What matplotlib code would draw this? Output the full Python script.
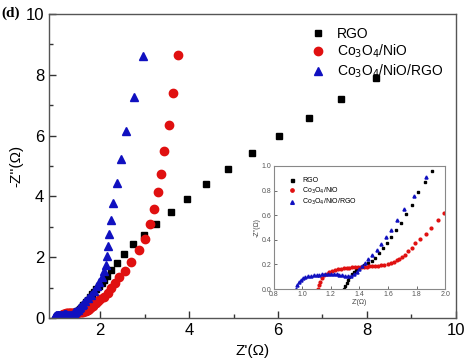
import numpy as np
import matplotlib.pyplot as plt

plt.rcParams['font.family'] = ['Liberation Sans', 'DejaVu Sans']

# Nyquist data, Z' and -Z'' in ohm
rgo_x = [1.29, 1.30, 1.31, 1.32, 1.33, 1.345, 1.36, 1.375, 1.39, 1.41, 1.43, 1.46,
         1.486, 1.511, 1.537, 1.565, 1.593, 1.623, 1.654, 1.689, 1.726, 1.766, 1.808,
         1.86, 1.91, 1.97, 2.03, 2.09, 2.15, 2.24, 2.37, 2.53, 2.73, 2.98, 3.25,
         3.59, 3.96, 4.39, 4.88, 5.42, 6.03, 6.69, 7.42, 8.20]
rgo_y = [0.0, 0.025, 0.05, 0.075, 0.098, 0.12, 0.14, 0.155, 0.168, 0.182, 0.195, 0.21,
         0.228, 0.255, 0.29, 0.331, 0.377, 0.425, 0.48, 0.539, 0.61, 0.685, 0.786,
         0.87, 0.96, 1.06, 1.16, 1.26, 1.37, 1.59, 1.82, 2.11, 2.42, 2.74, 3.08,
         3.50, 3.93, 4.41, 4.91, 5.44, 6.00, 6.59, 7.21, 7.89]

cn_x = [1.11, 1.115, 1.125, 1.14, 1.155, 1.17, 1.19, 1.21, 1.23, 1.25, 1.27, 1.29,
        1.31, 1.33, 1.35, 1.37, 1.39, 1.41, 1.43, 1.45, 1.47, 1.49, 1.51, 1.53, 1.55,
        1.57, 1.60, 1.62, 1.64, 1.66, 1.68, 1.70, 1.716, 1.74, 1.765, 1.79, 1.826,
        1.863, 1.90, 1.947, 1.993, 2.08, 2.17, 2.25, 2.34, 2.43, 2.55, 2.70, 2.87,
        3.00, 3.11, 3.21, 3.30, 3.36, 3.44, 3.54, 3.63, 3.75]
cn_y = [0.0, 0.03, 0.06, 0.09, 0.11, 0.125, 0.137, 0.146, 0.153, 0.159, 0.164, 0.168,
        0.171, 0.174, 0.176, 0.178, 0.179, 0.18, 0.181, 0.182, 0.184, 0.186, 0.188,
        0.19, 0.193, 0.197, 0.206, 0.214, 0.222, 0.234, 0.246, 0.263, 0.28, 0.306,
        0.336, 0.37, 0.41, 0.45, 0.50, 0.56, 0.62, 0.71, 0.84, 0.99, 1.15, 1.34, 1.56,
        1.85, 2.24, 2.61, 3.08, 3.59, 4.13, 4.75, 5.48, 6.36, 7.40, 8.66]

cnr_x = [0.955, 0.965, 0.975, 0.99, 1.005, 1.02, 1.04, 1.06, 1.08, 1.10, 1.12, 1.14,
         1.16, 1.18, 1.20, 1.22, 1.24, 1.26, 1.28, 1.30, 1.32, 1.34, 1.36, 1.38, 1.40,
         1.42, 1.44, 1.46, 1.49, 1.52, 1.55, 1.586, 1.619, 1.663, 1.714, 1.782, 1.869,
         1.93, 1.98, 2.03, 2.08, 2.13, 2.16, 2.17, 2.19, 2.24, 2.29, 2.37, 2.46, 2.58,
         2.75, 2.97]
cnr_y = [0.0, 0.03, 0.055, 0.075, 0.088, 0.097, 0.104, 0.109, 0.112, 0.115, 0.117,
         0.118, 0.119, 0.12, 0.12, 0.12, 0.118, 0.115, 0.111, 0.106, 0.103, 0.105,
         0.118, 0.14, 0.165, 0.19, 0.213, 0.24, 0.276, 0.319, 0.368, 0.42, 0.48, 0.558,
         0.648, 0.76, 0.908, 1.05, 1.20, 1.36, 1.54, 1.73, 2.03, 2.36, 2.75, 3.23, 3.78,
         4.45, 5.22, 6.16, 7.28, 8.61]

labels = ['RGO', 'Co$_3$O$_4$/NiO', 'Co$_3$O$_4$/NiO/RGO']

fig = plt.figure(figsize=(4.68, 3.64), dpi=100)
ax = fig.add_axes([0.105, 0.126, 0.869, 0.836])

ax.plot(rgo_x, rgo_y, 's', color='black', ms=5, label=labels[0])
ax.plot(cn_x, cn_y, 'o', color='#e01010', ms=6, label=labels[1])
ax.plot(cnr_x, cnr_y, '^', color='#1010c0', ms=6, label=labels[2])

ax.set_xlim(0.85, 10)
ax.set_ylim(0, 10)
ax.set_xticks([2, 4, 6, 8, 10])
ax.set_yticks([0, 2, 4, 6, 8, 10])
ax.set_xticks([1, 3, 5, 7, 9], minor=True)
ax.set_yticks([1, 3, 5, 7, 9], minor=True)
ax.tick_params(direction='in', labelsize=12, length=5, width=1, color='#333333')
ax.tick_params(which='minor', direction='in', length=3, width=1, color='#333333')
for s in ax.spines.values():
    s.set_color('#555555')
    s.set_linewidth(1.0)
ax.set_xlabel("Z'(\u03a9)", fontsize=11, labelpad=4)
ax.set_ylabel("-Z''(\u03a9)", fontsize=11, labelpad=2)
ax.legend(loc='upper left', frameon=False, fontsize=10, handlelength=1.0,
          handletextpad=0.9, labelspacing=0.15, borderaxespad=0.0,
          bbox_to_anchor=(0.63, 0.975))

fig.text(0.002, 0.955, '(d)', fontsize=11, fontweight='bold', family='Liberation Serif')

# inset zoom on high-frequency region
ins = fig.add_axes([0.585, 0.206, 0.366, 0.338])
ins.plot(rgo_x, rgo_y, 's', color='black', ms=1.8, label=labels[0])
ins.plot(cn_x, cn_y, 'o', color='#e01010', ms=2.0, label=labels[1])
ins.plot(cnr_x, cnr_y, '^', color='#1010c0', ms=2.2, label=labels[2])
ins.set_xlim(0.8, 2.0)
ins.set_ylim(0, 1.0)
ins.set_xticks(np.arange(0.8, 2.01, 0.2))
ins.set_yticks(np.arange(0, 1.01, 0.2))
ins.xaxis.set_major_formatter(plt.FormatStrFormatter('%.1f'))
ins.yaxis.set_major_formatter(plt.FormatStrFormatter('%.1f'))
ins.tick_params(direction='in', labelsize=5, length=2, width=0.6, pad=1.5,
                colors='#555555')
for s in ins.spines.values():
    s.set_color('#888888')
    s.set_linewidth(0.8)
ins.set_xlabel("Z'(\u03a9)", fontsize=5, labelpad=0.5, color='#444444')
ins.set_ylabel("-Z''(\u03a9)", fontsize=5, labelpad=0.5, color='#444444')
ins.legend(loc='upper left', frameon=False, fontsize=5, handletextpad=0.5,
           labelspacing=0.2, borderaxespad=1.2, markerscale=1.2)

fig.savefig('out.png', dpi=100)
